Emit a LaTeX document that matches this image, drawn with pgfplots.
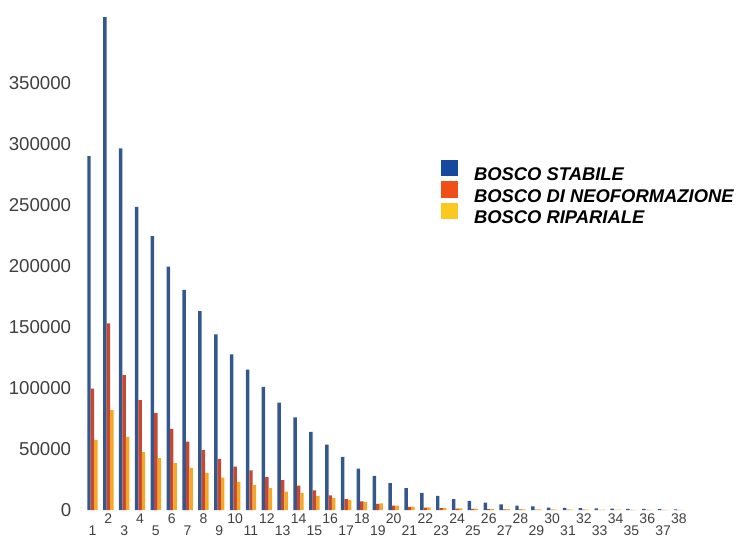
\documentclass[border=0pt]{standalone}
\usepackage{pgfplots}
\usepackage{pgfplotstable}
\pgfplotsset{compat=1.18}
\usepackage{fontspec}
\setmainfont{Liberation Sans}
\definecolor{barblue}{RGB}{52,88,140}
\definecolor{barred}{RGB}{196,72,50}
\definecolor{baryellow}{RGB}{245,168,40}
\definecolor{legblue}{RGB}{22,72,160}
\definecolor{legred}{RGB}{240,80,24}
\definecolor{legyellow}{RGB}{250,200,30}
\pgfplotstableread{
x blue red yellow
1 290000 99500 57500
2 404000 153000 82000
3 296500 110500 60000
4 248500 90000 47500
5 224500 79500 42500
6 199500 66500 38500
7 180500 56000 34500
8 163000 49000 30500
9 144000 42000 26500
10 127500 35500 23000
11 115000 32500 20500
12 101000 27000 18000
13 88000 24500 15000
14 76000 20000 14000
15 64000 16000 11500
16 53500 12000 10000
17 43500 9000 8200
18 34000 7000 6600
19 28000 5000 5500
20 22000 3500 3500
21 18000 2500 2800
22 14000 2000 2200
23 11500 1500 1800
24 9000 1200 1400
25 7400 1000 1100
26 6000 800 900
27 4600 600 700
28 3500 500 600
29 3000 400 500
30 2000 300 400
31 1800 250 300
32 1600 250 300
33 1400 200 250
34 1200 200 250
35 1000 150 200
36 900 150 200
37 700 100 150
38 500 100 100
}\datatable
\begin{document}
\begin{tikzpicture}
\begin{axis}[
  scale only axis,
  width=461.25pt, height=375.15pt,
  xmin=0.2, xmax=39, ymin=0, ymax=410000,
  axis line style={draw=none},
  tick style={draw=none},
  major tick length=0pt,
  scaled y ticks=false,
  /pgf/number format/fixed,
  /pgf/number format/precision=0,
  /pgf/number format/1000 sep={},
  /pgf/number format/assume math mode=true,
  ytick={0,50000,100000,150000,200000,250000,300000,350000},
  yticklabel style={font=\fontsize{14}{14}\selectfont, text=black!75, anchor=east, inner sep=0pt, xshift=-6.3pt},
  xtick={2,4,...,38},
  extra x ticks={1,3,...,37},
  extra x tick style={xticklabel style={yshift=-9.3pt}, grid=none},
  xticklabel style={font=\fontsize{10.5}{10.5}\selectfont, text=black!75, anchor=north, inner sep=0pt, yshift=-2.6pt},
  legend style={draw=none, fill=none, inner sep=0pt, outer sep=0pt,
    at={(rel axis cs:0.587,0.6997)}, anchor=north west,
    font=\fontsize{13.8}{14}\selectfont\bfseries\itshape,
    row sep=0.4pt,
    nodes={inner sep=0pt, text height=10pt, text depth=0pt},
    /tikz/every odd column/.append style={column sep=12pt}},
  legend cell align=left,
  legend entries={BOSCO STABILE, BOSCO DI NEOFORMAZIONE, BOSCO RIPARIALE},
]
\addlegendimage{legend image code/.code={\fill[legblue] (0pt,-1pt) rectangle (12.5pt,10.5pt);}}
\addlegendimage{legend image code/.code={\fill[legred] (0pt,-1pt) rectangle (12.5pt,10.5pt);}}
\addlegendimage{legend image code/.code={\fill[legyellow] (0pt,-1pt) rectangle (12.5pt,10.5pt);}}
\addplot[ybar, bar width=2.6pt, bar shift=-2.6pt, fill=barblue, draw=none, forget plot] table[x=x, y=blue] {\datatable};
\addplot[ybar, bar width=2.6pt, bar shift=0pt, fill=barred, draw=none, forget plot] table[x=x, y=red] {\datatable};
\addplot[ybar, bar width=2.6pt, bar shift=2.6pt, fill=baryellow, draw=none, forget plot] table[x=x, y=yellow] {\datatable};
\end{axis}
\pgfresetboundingbox
\path[use as bounding box] ([xshift=-59.85pt,yshift=-21pt]current axis.south west) rectangle ([xshift=492.9pt,yshift=7.35pt]current axis.north west);
\end{tikzpicture}
\end{document}
